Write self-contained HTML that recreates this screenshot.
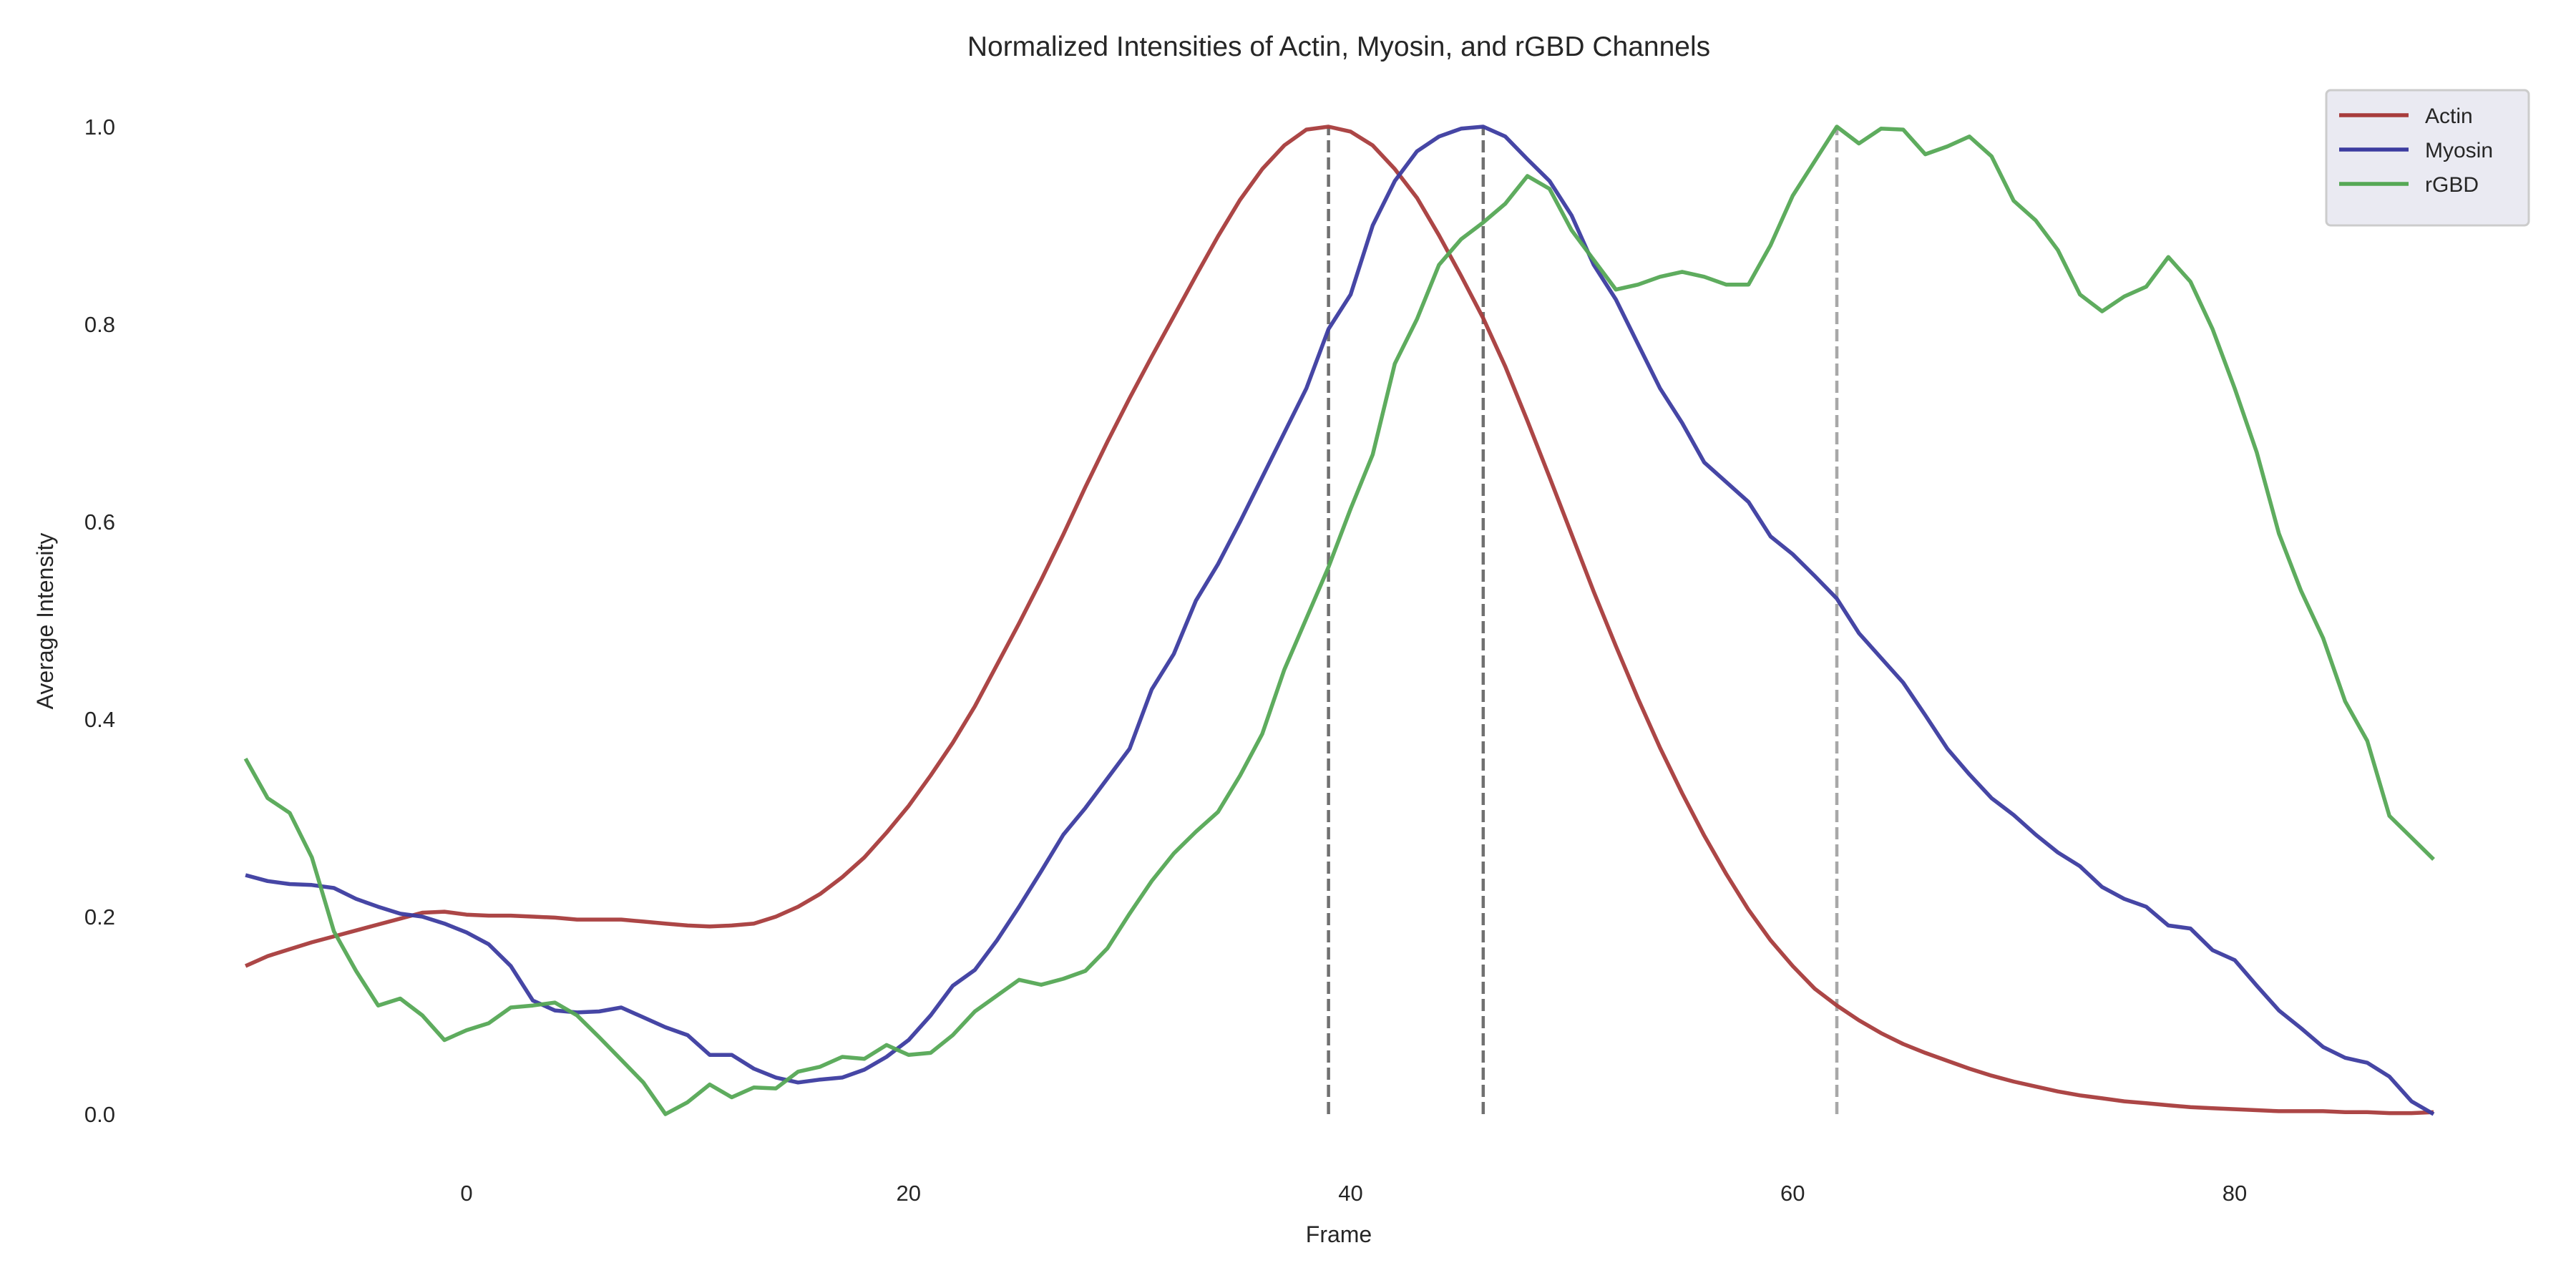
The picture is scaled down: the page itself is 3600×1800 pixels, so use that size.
<!DOCTYPE html>
<html><head><meta charset="utf-8"><style>
html,body{margin:0;padding:0;background:#fff;}
svg{display:block;font-family:"Liberation Sans",sans-serif;}
</style></head><body>
<svg id="chart" width="3600" height="1800" viewBox="0 0 3600 1800" xmlns="http://www.w3.org/2000/svg">
<text x="1871" y="78" font-size="39" text-anchor="middle" fill="#262626">Normalized Intensities of Actin, Myosin, and rGBD Channels</text>
<text x="1871" y="1736" font-size="32" text-anchor="middle" fill="#262626">Frame</text>
<text x="0" y="0" font-size="32" text-anchor="middle" fill="#262626" transform="translate(74,868) rotate(-90)">Average Intensity</text>
<g id="ticks"></g>
<g id="vlines"></g>
<g id="series"></g>
<g>
<rect x="3251" y="126" width="283" height="189" rx="6" fill="#eaeaf2" stroke="#cccccc" stroke-width="3"/>
<g id="legend-items"></g>
</g>
</svg>
<script>
const frames=[];for(let f=-10;f<=89;f++)frames.push(f);
const actin=[0.150,0.160,0.167,0.174,0.180,0.186,0.192,0.198,0.204,0.205,0.202,0.201,0.201,0.200,0.199,0.197,0.197,0.197,0.195,0.193,0.191,0.190,0.191,0.193,0.200,0.210,0.223,0.240,0.260,0.285,0.312,0.343,0.376,0.413,0.455,0.497,0.541,0.587,0.635,0.681,0.725,0.767,0.808,0.849,0.889,0.926,0.957,0.981,0.997,1.000,0.995,0.981,0.957,0.928,0.890,0.849,0.806,0.757,0.702,0.645,0.587,0.529,0.474,0.421,0.371,0.325,0.282,0.243,0.207,0.176,0.150,0.127,0.110,0.095,0.082,0.071,0.062,0.054,0.046,0.039,0.033,0.028,0.023,0.019,0.016,0.013,0.011,0.009,0.007,0.006,0.005,0.004,0.003,0.003,0.003,0.002,0.002,0.001,0.001,0.002];
const myosin=[0.242,0.236,0.233,0.232,0.229,0.218,0.210,0.203,0.200,0.193,
0.184,0.172,0.150,0.115,0.105,0.103,0.104,0.108,0.098,0.088,
0.080,0.060,0.060,0.046,0.037,0.032,0.035,0.037,0.045,0.058,
0.075,0.100,0.130,0.146,0.176,0.210,0.246,0.283,0.310,0.340,
0.370,0.430,0.466,0.520,0.557,0.600,0.645,0.690,0.735,0.795,
0.830,0.900,0.945,0.975,0.990,0.998,1.000,0.990,0.967,0.945,
0.910,0.860,0.825,0.780,0.735,0.700,0.660,0.640,0.620,0.585,
0.567,0.545,0.522,0.487,0.462,0.437,0.404,0.370,0.344,0.320,
0.303,0.283,0.265,0.251,0.230,0.218,0.210,0.191,0.188,0.166,
0.156,0.130,0.105,0.087,0.068,0.057,0.052,0.038,0.013,0.000];
const rgbd=[0.360,0.320,0.305,0.260,0.185,0.145,0.110,0.117,0.100,0.075,0.085,0.092,0.108,0.110,0.113,0.100,0.078,0.055,0.032,0.000,0.012,0.030,0.017,0.027,0.026,0.043,0.048,0.058,0.056,0.070,0.060,0.062,0.080,0.104,0.120,0.136,0.131,0.137,0.145,0.168,0.203,0.236,0.264,0.286,0.306,0.343,0.385,0.450,0.502,0.554,0.613,0.668,0.760,0.805,0.860,0.886,0.903,0.922,0.950,0.937,0.895,0.865,0.835,0.840,0.848,0.853,0.848,0.840,0.840,0.880,0.930,0.965,1.000,0.983,0.998,0.997,0.972,0.980,0.990,0.970,0.925,0.905,0.875,0.830,0.813,0.828,0.838,0.868,0.843,0.795,0.735,0.670,0.588,0.530,0.482,0.418,0.378,0.302,0.280,0.258];
const xTicks=[0,20,40,60,80];
const yTicks=[0.0,0.2,0.4,0.6,0.8,1.0];
const peakFrames=[39,46,62];
const seriesNames=['Actin','Myosin','rGBD'];
const seriesColors=['#a83c3c','#3c3ca0','#55a855'];

const X=f=>652+(3123-652)*f/80;
const Y=v=>1557-(1557-177)*v;
const NS='http://www.w3.org/2000/svg';
function mk(tag,attrs,parent){const e=document.createElementNS(NS,tag);for(const k in attrs)e.setAttribute(k,attrs[k]);parent.appendChild(e);return e;}
const tg=document.getElementById('ticks');
xTicks.forEach(t=>{const e=mk('text',{x:X(t),y:1678,'font-size':31,'text-anchor':'middle',fill:'#262626'},tg);e.textContent=t;

});
yTicks.forEach(t=>{const e=mk('text',{x:161,y:Y(t)+11,'font-size':31,'text-anchor':'end',fill:'#262626'},tg);e.textContent=t.toFixed(1);

});
const vg=document.getElementById('vlines');
peakFrames.forEach((f,i)=>{const l=mk('line',{x1:X(f),x2:X(f),y1:Y(0),y2:Y(1),stroke:i<2?'#707070':'#a8a8a8','stroke-width':4.5,'stroke-dasharray':'17 7'},vg);

});
const sg=document.getElementById('series');
[actin,myosin,rgbd].forEach((arr,i)=>{
const pts=arr.map((v,j)=>X(frames[j]).toFixed(1)+','+Y(v).toFixed(1)).join(' ');
const p=mk('polyline',{points:pts,fill:'none',stroke:seriesColors[i],'stroke-width':5.5,'stroke-linejoin':'round','stroke-opacity':0.95},sg);

});
const lg=document.getElementById('legend-items');
seriesNames.forEach((n,i)=>{const y=161+48*i;
const l=mk('line',{x1:3269,x2:3366,y1:y,y2:y,stroke:seriesColors[i],'stroke-width':5.5},lg);


const t=mk('text',{x:3389,y:y+11,'font-size':30,fill:'#262626'},lg);t.textContent=n;

});
</script>
</body></html>
